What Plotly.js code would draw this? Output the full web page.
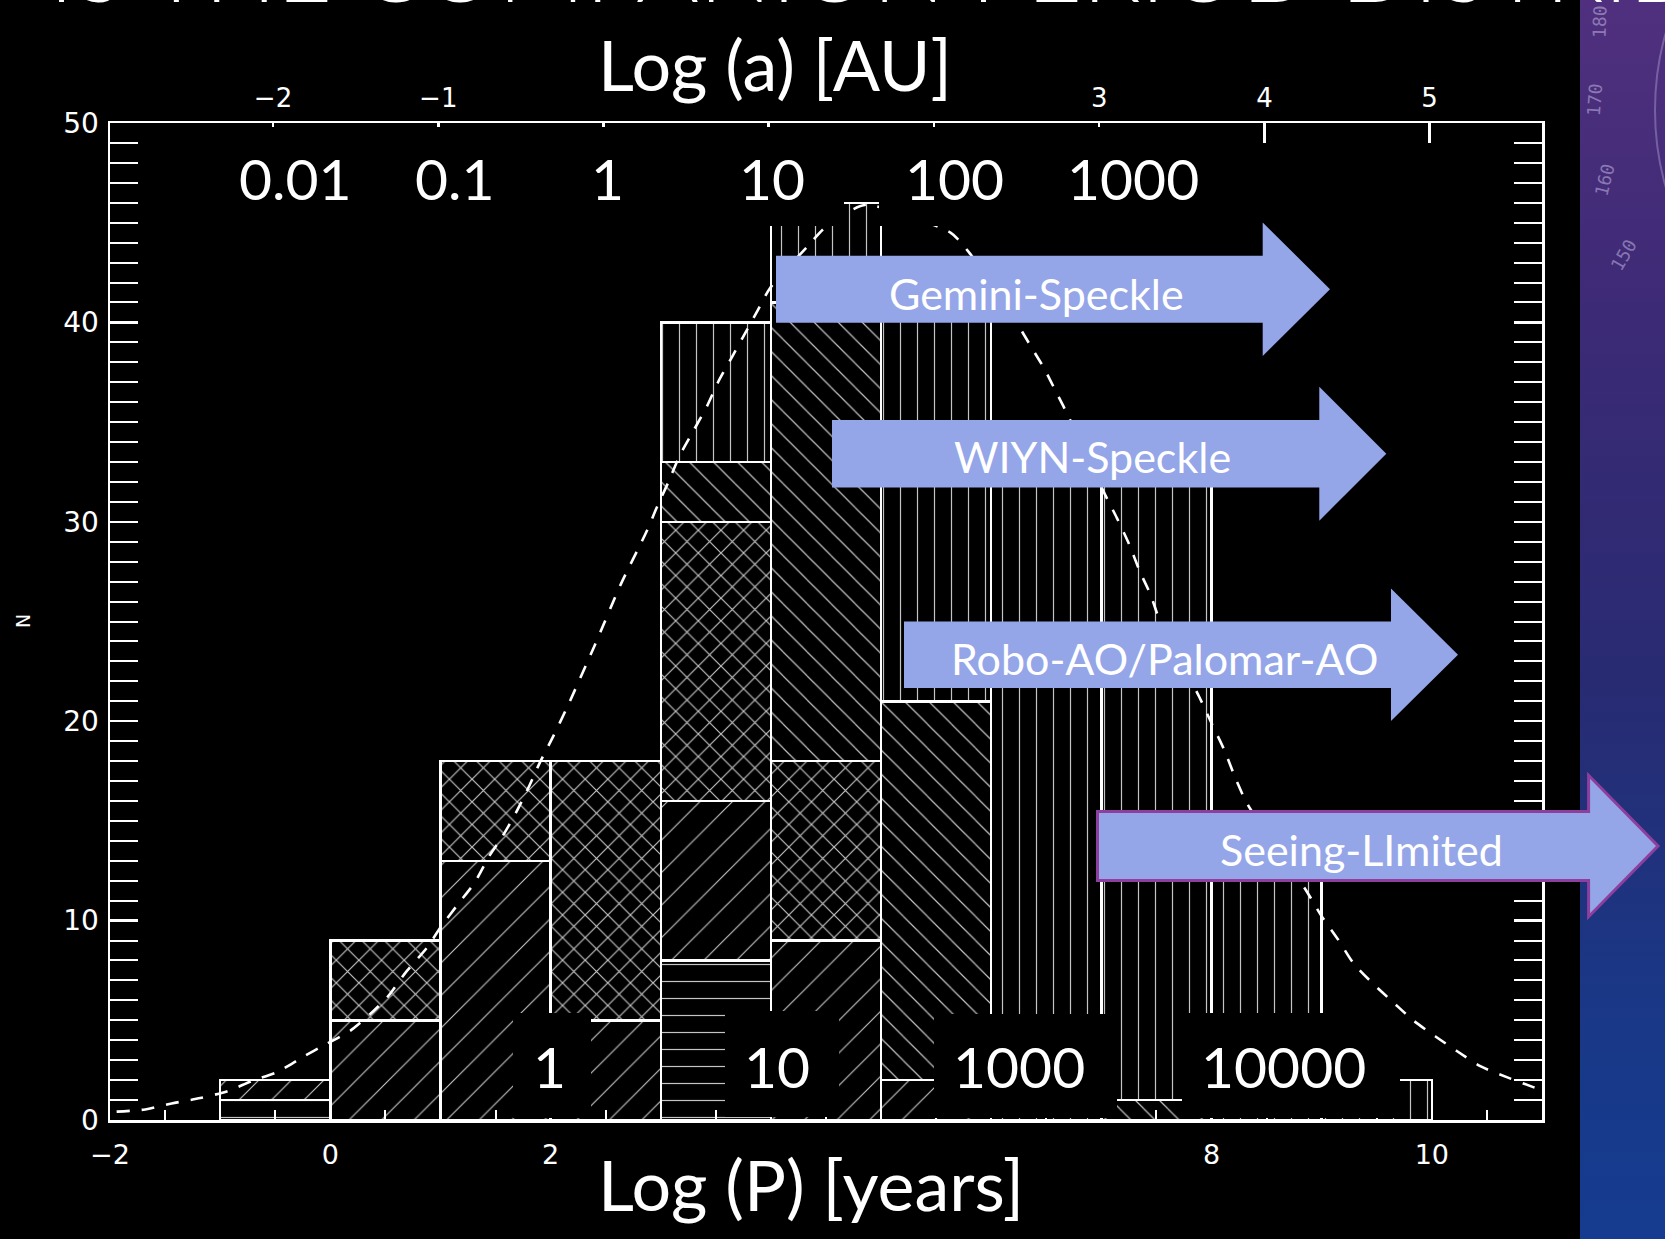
<!DOCTYPE html>
<html>
<head>
<meta charset="utf-8">
<script src="https://cdn.plot.ly/plotly-3.0.1.min.js"></script>
<style>
  html, body { margin: 0; padding: 0; background: #000; }
  #wrap { position: relative; width: 1665px; height: 1239px; overflow: hidden; background: #000; }
  #strip { position: absolute; left: 1580px; top: 0; width: 85px; height: 1239px;
           background: linear-gradient(180deg, #50307e 0%, #3d2a76 25%, #282b72 55%, #1a3786 80%, #153c90 100%); }
  #chart { position: absolute; left: 0; top: 0; width: 1665px; height: 1239px; }
</style>
</head>
<body>
<div id="wrap"><div id="strip"></div><div id="chart"></div></div>
<script>
// ---- histogram of companion periods, log P bins of width 1 ----
const binCenters = [-0.5, 0.5, 1.5, 2.5, 3.5, 4.5, 5.5, 6.5, 7.5, 8.5, 9.5];
// counts per discovery method (stacked bottom to top)
const nHoriz = [1, null, null, null, 8, null, null, null, null, null, null];
const nSlash = [1, 5, 13, 5, 8, 9, 2, null, null, null, null];
const nCross = [null, 4, 5, 13, 14, 9, null, null, null, null, null];
const nBack  = [null, null, null, null, 3, 23, 19, null, 1, null, null];
const nVert  = [null, null, null, null, 7, 5, 21, 33, 31, 12, 2];

// Gaussian fit (dashed), sampled along the curve
const fitX = [-1.94, -1.68, -1.44, -1.18, -0.93, -0.71, -0.48, -0.25, -0.04, 0.18, 0.36, 0.52, 0.69, 0.875,
              1.01, 1.16, 1.31, 1.45, 1.56, 1.69, 1.81, 1.90, 2.02, 2.15, 2.40, 2.64, 2.87, 2.97, 3.07, 3.17,
              3.29, 3.42, 3.52, 3.64, 3.75, 3.87, 3.99, 4.33, 4.48, 4.72, 4.87, 5.63, 5.80, 6.24, 6.37, 6.48,
              6.59, 6.70, 7.03, 7.14, 7.25, 7.35, 7.45, 7.52, 7.89, 8.00, 8.12, 8.22, 8.33, 8.86, 8.99, 9.15,
              9.29, 9.46, 9.65, 9.83, 10.03, 10.23, 10.44, 10.68, 10.92, 11.0];
const fitN = [0.42, 0.53, 0.83, 1.10, 1.45, 1.96, 2.41, 3.16, 3.8, 4.47, 5.3, 6.18, 7.44, 8.63,
              9.73, 10.83, 11.9, 13.3, 14.2, 15.46, 16.8, 17.9, 19.2, 20.7, 23.8, 26.9, 29.5, 30.8, 32.0, 33.3,
              34.5, 35.8, 37.0, 38.2, 39.3, 40.5, 41.7, 43.8, 44.7, 45.6, 45.9, 44.5, 43.5, 39.9, 38.7, 37.7,
              36.5, 35.3, 31.4, 30.2, 28.9, 27.5, 26.3, 25.2, 21.2, 19.9, 18.5, 17.1, 15.8, 11.5, 10.3, 9.04,
              7.85, 6.87, 5.9, 5.0, 4.2, 3.45, 2.7, 2.15, 1.65, 1.5];

// axis ticks; labels that sit under the title boxes are aliased to blank
const P_DTICK = 2, P_MINOR = 0.5;
const pHidden = { '4': '', '6': '' };
const A_DTICK = 1;
const aHidden = { '0': '', '1': '', '2': '' };
const N_DTICK = 10, N_MINOR = 1;

// separation (AU) and period (years) markers written on the chart
const auLabels = ['0.01', '0.1', '1', '10', '100', '1000'];
const yearLabels = ['1', '10', '1000', '10000'];
const surveyNames = ['Gemini-Speckle', 'WIYN-Speckle', 'Robo-AO/Palomar-AO', 'Seeing-LImited'];
const dialLabels = ['180', '170', '160', '150'];

// Kepler: log P = 1.5 log a + const (for the sample's typical mass)
const KEP_SLOPE = 1.5, KEP_OFF = 2.48;
const P_RANGE = [-2, 11];
const A_RANGE = P_RANGE.map(p => (p - KEP_OFF) / KEP_SLOPE);

// ---- page geometry helpers (pixels -> paper) ----
const PL = 110, PR = 1542, PT = 123, PB = 1120;
const fx = p => (p - PL) / (PR - PL);
const fy = p => (PB - p) / (PB - PT);

const HATCH = '#c4c4c4';
function layerTrace(vals, shape, size, solidity) {
  return {
    type: 'bar', x: binCenters, y: vals, width: 1,
    marker: { color: 'black', line: { color: 'white', width: 2.5 },
              pattern: { shape: shape, fgcolor: HATCH, bgcolor: 'black', size: size, solidity: solidity, fillmode: 'replace' } },
    hoverinfo: 'skip', showlegend: false
  };
}

const traces = [
  layerTrace(nHoriz, '-', 17, 0.07),
  layerTrace(nSlash, '/', 23, 0.05),
  layerTrace(nCross, 'x', 16, 0.14),
  layerTrace(nBack, '\\', 17, 0.07),
  layerTrace(nVert, '|', 17, 0.07),
  { type: 'scatter', mode: 'lines', x: fitX, y: fitN,
    line: { color: 'white', width: 2.6, dash: '13px,12px', shape: 'spline', smoothing: 0.7 },
    hoverinfo: 'skip', showlegend: false },
  { type: 'scatter', x: [], y: [], xaxis: 'x2', yaxis: 'y', hoverinfo: 'skip', showlegend: false }
];

const AXIS_FONT = 'DejaVu Sans, Verdana, sans-serif';
const SLIDE_FONT = 'Lato, Open Sans, sans-serif';

// black text boxes (pixel rectangles) laid over the axes
const boxes = [
  [580, 26, 968, 113],      // top title
  [584, 1126, 1040, 1239],  // bottom title
  [210, 127, 380, 226], [386, 127, 524, 226], [566, 127, 648, 226],
  [700, 127, 844, 226], [879, 127, 1029, 226], [1041, 127, 1225, 226],
  [513, 1013, 591, 1118], [725, 1011, 839, 1117], [934, 1014, 1117, 1118], [1182, 1013, 1400, 1118]
];
const shapes = boxes.map(b => ({
  type: 'rect', xref: 'paper', yref: 'paper', layer: 'above',
  x0: fx(b[0]), x1: fx(b[2]), y0: fy(b[3]), y1: fy(b[1]),
  fillcolor: 'black', line: { width: 0 }
}));

// faint dial drawn on the slide background
shapes.push({
  type: 'circle', xref: 'paper', yref: 'paper', layer: 'below',
  x0: fx(1655), x1: fx(1905), y0: fy(300), y1: fy(-80),
  line: { color: 'rgba(200,190,235,0.35)', width: 2 }, fillcolor: 'rgba(0,0,0,0)'
});

// survey arrows: [x start, head base, tip, y centre, body half height, head half height]
const arrows = [
  [776, 1262.7, 1330, 289.2, 33.5, 66.7],
  [832, 1319.3, 1386.3, 453.7, 33.7, 67.0],
  [904, 1391, 1458, 654.7, 33.3, 66.3],
  [1097.5, 1588.6, 1658, 846, 34.6, 70.7]
];
arrows.forEach((a, i) => {
  const [x0, xb, xt, yc, bh, hh] = a;
  const pts = [[x0, yc - bh], [xb, yc - bh], [xb, yc - hh], [xt, yc], [xb, yc + hh], [xb, yc + bh], [x0, yc + bh]];
  const path = 'M' + pts.map(p => fx(p[0]).toFixed(5) + ',' + fy(p[1]).toFixed(5)).join('L') + 'Z';
  shapes.push({
    type: 'path', xref: 'paper', yref: 'paper', layer: 'above', path: path,
    fillcolor: '#94a5e8',
    line: i === 3 ? { color: '#8e3f9e', width: 3 } : { width: 0 }
  });
});

const annotations = [];
function txt(t, x, y, size, extra) {
  annotations.push(Object.assign({
    text: t, xref: 'paper', yref: 'paper', x: fx(x), y: fy(y),
    xanchor: 'center', yanchor: 'middle', showarrow: false,
    font: { family: SLIDE_FONT, size: size, color: 'white' }
  }, extra || {}));
}
// slide heading, running off the top edge
txt('IS THE COMPANION PERIOD DISTRIBUTION', 1018, -36, 96, { font: { family: SLIDE_FONT, size: 96, color: 'white', weight: 300 } });
txt('Log (a) [AU]', 775, 64, 70);
txt('Log (P) [years]', 811, 1184, 70);
const auX = [295, 455, 607, 772, 954, 1133];
auLabels.forEach((t, i) => txt(t, auX[i], 178, 57));
const yrX = [549, 777, 1019, 1283];
yearLabels.forEach((t, i) => txt(t, yrX[i], 1066, 57));
const surveyX = [1036, 1092.5, 1164.5, 1361];
const surveyY = [293.5, 457, 658, 849];
surveyNames.forEach((t, i) => txt(t, surveyX[i], surveyY[i], 43));
txt('N', 23, 621, 20, { textangle: -90, font: { family: AXIS_FONT, size: 19, color: 'white' } });
const dialX = [1600, 1595, 1604, 1623], dialY = [21, 100, 180, 255], dialA = [-88, -86, -76, -60];
dialLabels.forEach((t, i) => txt(t, dialX[i], dialY[i], 18,
  { textangle: dialA[i], font: { family: 'DejaVu Sans Mono, monospace', size: 18, color: 'rgba(205,195,235,0.5)' } }));

const layout = {
  width: 1665, height: 1239,
  margin: { l: PL, r: 1665 - PR, t: PT, b: 1239 - PB, pad: 0 },
  paper_bgcolor: 'rgba(0,0,0,0)', plot_bgcolor: 'black',
  barmode: 'stack', bargap: 0,
  xaxis: {
    range: P_RANGE, showgrid: false, zeroline: false,
    showline: true, linecolor: 'white', linewidth: 2.5, mirror: true,
    tickmode: 'linear', tick0: 0, dtick: P_DTICK, labelalias: pHidden,
    ticks: 'inside', ticklen: 20, tickwidth: 2.5, tickcolor: 'white',
    minor: { tickmode: 'linear', tick0: 0, dtick: P_MINOR, ticks: 'inside', ticklen: 10, tickwidth: 2, tickcolor: 'white' },
    tickfont: { family: AXIS_FONT, size: 27, color: 'white' }, ticklabelstandoff: 9
  },
  xaxis2: {
    overlaying: 'x', side: 'top', anchor: 'y', range: A_RANGE,
    showgrid: false, zeroline: false, showline: false,
    tickmode: 'linear', tick0: 0, dtick: A_DTICK, labelalias: aHidden,
    ticks: 'inside', ticklen: 20, tickwidth: 2.5, tickcolor: 'white',
    tickfont: { family: AXIS_FONT, size: 26, color: 'white' }, ticklabelstandoff: 10
  },
  yaxis: {
    range: [0, 50], showgrid: false, zeroline: false,
    showline: true, linecolor: 'white', linewidth: 2.5, mirror: 'allticks',
    tickmode: 'linear', tick0: 0, dtick: N_DTICK,
    ticks: 'inside', ticklen: 28, tickwidth: 2.5, tickcolor: 'white',
    minor: { tickmode: 'linear', tick0: 0, dtick: N_MINOR, ticks: 'inside', ticklen: 14, tickwidth: 2, tickcolor: 'white' },
    tickfont: { family: AXIS_FONT, size: 28, color: 'white' }, ticklabelstandoff: 3
  },
  shapes: shapes,
  annotations: annotations
};

Plotly.newPlot('chart', traces, layout, { staticPlot: true, displayModeBar: false });
</script>
</body>
</html>
